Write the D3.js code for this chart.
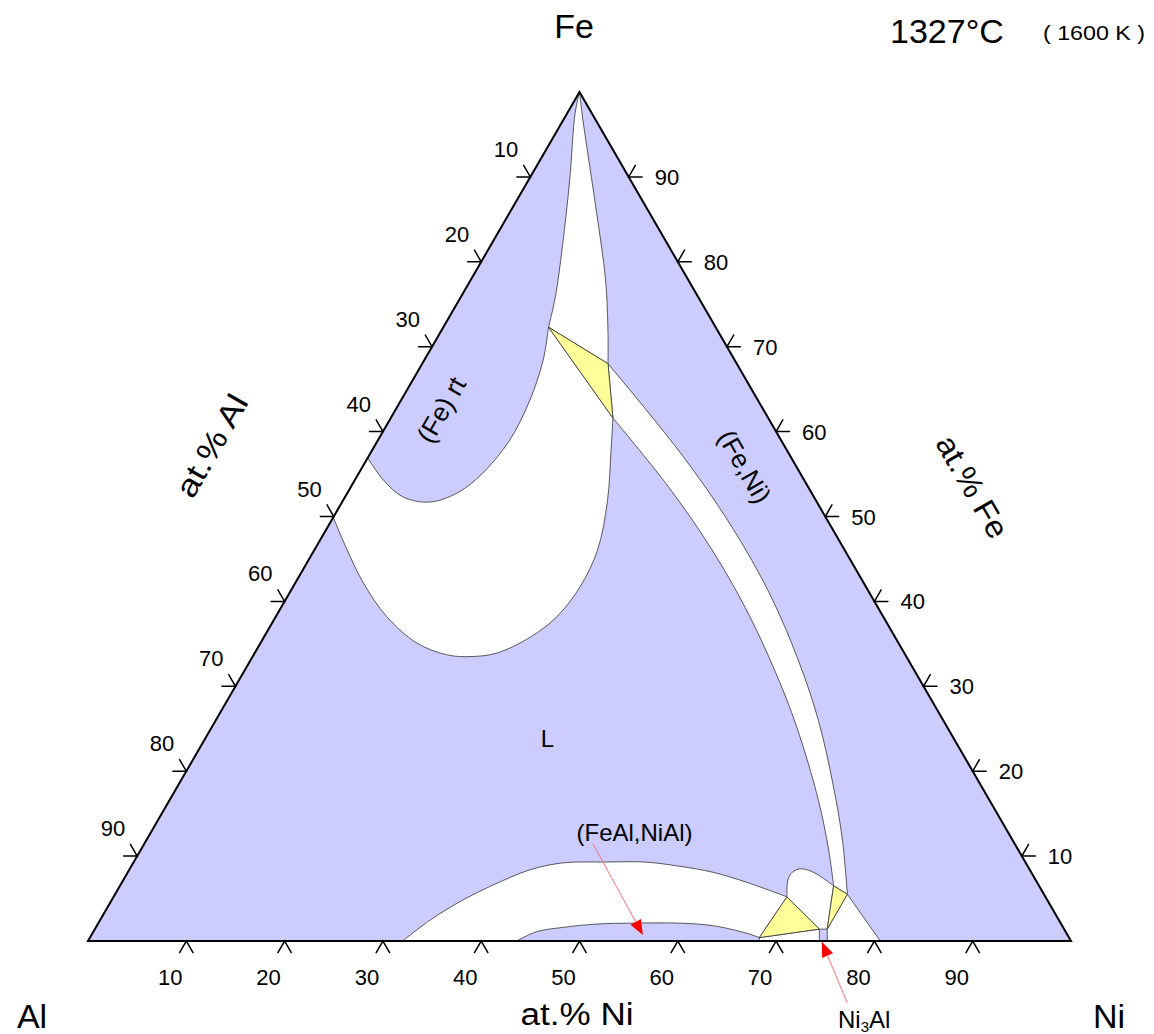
<!DOCTYPE html>
<meta charset="utf-8">
<style>
body { margin: 0; background: #fff; }
svg text { font-family: "Liberation Sans", Arial, sans-serif; fill: #000; }
.region { stroke: #333; stroke-width: 0.8; stroke-linejoin: round; }
.tick { fill: none; stroke: #000; stroke-width: 1.5; }
</style>
<body></body>
<script src="https://cdnjs.cloudflare.com/ajax/libs/d3/7.8.5/d3.min.js"></script>
<script>
var width = 1154, height = 1034;

// all compositions are [at.% Ni, at.% Fe]  (Al = 100 - Ni - Fe)
var tickValues = [10, 20, 30, 40, 50, 60, 70, 80, 90];

// tie triangles (corners)
var A = [10.7, 72.3], B = [18.9, 68.0], C = [22.6, 61.6];   // (Fe)rt + (Fe,Ni) + L
var D = [68.5, 5.2],  E = [68.1, 0.4],  F = [73.7, 1.4];    // L + B2 + Ni3Al
var G = [72.6, 6.5],  H = [74.5, 5.5],  I = [74.5, 1.4];    // L + (Fe,Ni) + Ni3Al

// phase boundaries
var bccApex   = [[0, 100], [0.8, 97.5], [4.2, 89.6], [7.4, 81.7], [9.6, 75.9], A];
var fccApex   = [[0, 100], [2.0, 96.7], [4.0, 93.5], [8.9, 85.7], [13.7, 77.9], [17.1, 71.6], B];
var bccLobe   = [A, [12.1, 68.4], [13.1, 63.7], [13.4, 59.0], [12.6, 55.1], [11.2, 52.8],
                 [8.9, 51.7], [5.9, 52.3], [2.9, 54.3], [0, 56.9]];
var liqBowl   = [[0, 49.9], [3.3, 46.1], [6.9, 42.2], [11.3, 38.2], [15.9, 35.1], [19.7, 33.7],
                 [22.1, 33.5], [24.6, 33.9], [27.1, 35.8], [28.6, 38.2], [29.2, 41.7],
                 [28.8, 46.1], [26.9, 51.9], [24.4, 57.6], C];
var liqBand   = [C, [32.3, 53.5], [40.1, 46.4], [47.2, 39.3], [53.9, 31.9], [59.5, 25.2],
                 [66.0, 16.6], [70.0, 10.7], G];
var fccBand   = [B, [26.9, 61.4], [33.8, 55.5], [41.5, 48.4], [48.8, 41.0], [55.7, 33.1],
                 [61.3, 26.0], [66.8, 18.1], [70.8, 11.9], H];
var liqBottom = [[32.0, 0], [33.6, 2.5], [35.7, 4.8], [38.2, 6.8], [40.8, 8.4], [43.7, 9.2],
                 [48.1, 9.3], [52.0, 9.3], [55.8, 8.8], [59.5, 8.1], [63.6, 6.9], D];
var b2Top     = [[43.6, 0], [45.1, 1.1], [47.5, 1.6], [50.8, 2.0], [54.1, 2.1], [59.2, 2.1],
                 [62.7, 1.8], [66.6, 0.9], E];
var liqBump   = [D, [67.6, 7.2], [67.6, 8.1], [68.2, 8.5], [69.5, 8.2], [70.9, 7.5], G];
var b2Ni3Al   = [E, F, [74.4, 0], [68.3, 0]];
var fccNi3Al  = [I, H, [80.6, 0], [75.2, 0]];

// labels
var phaseNames = ["(Fe) rt", "(Fe,Ni)", "L", "(FeAl,NiAl)"];
var phaseSpots = [[5.2, 63.1], [37.8, 56.4], [34.8, 23.9], [49.2, 12.8]];
var phaseAngles = [-60, 60, 0, 0];
var arrowFrom = [[45.6, 11.5], [80.9, -7.3]];
var arrowTo   = [[56.1, 0.7], [74.7, -0.1]];

var xScale = d3.scaleLinear().domain([0, 100]).range([88, 1071]);
var yScale = d3.scaleLinear().domain([0, 100]).range([941, 92]);
function proj(c) { return [xScale(c[0] + c[1] / 2), yScale(c[1])]; }

var curve = d3.line().curve(d3.curveCatmullRom.alpha(0.5));
var straight = d3.line();

// join pieces into one closed outline: [points, curved?]
function outline(pieces) {
  var d = "";
  pieces.forEach(function(p, i) {
    var s = (p[1] ? curve : straight)(p[0].map(proj));
    d += i === 0 ? s : "L" + s.slice(1);
  });
  return d + "Z";
}
function rev(a) { return a.slice().reverse(); }

var svg = d3.select("body").append("svg")
    .attr("width", width)
    .attr("height", height);

// single phase background
var corners = [[0, 0], [100, 0], [0, 100]];
svg.append("path")
    .attr("d", straight(corners.map(proj)) + "Z")
    .attr("fill", "#ccccff");

// two phase regions
var twoPhase = [
  [[fccApex, true], [[B, A], false], [rev(bccApex), true]],
  [[bccLobe, true], [[[0, 56.9], [0, 49.9]], false], [liqBowl, true], [[C, A], false]],
  [[fccBand, true], [[H, G], false], [rev(liqBand), true], [[C, B], false]],
  [[liqBottom, true], [[D, E], false], [rev(b2Top), true]],
  [[liqBump, true], [[G, I, F], false]],
  [[b2Ni3Al, false]],
  [[fccNi3Al, false]]
];
svg.selectAll(".two")
    .data(twoPhase)
    .enter().append("path")
    .attr("class", "region two")
    .attr("fill", "#fff")
    .attr("d", outline);

// three phase triangles
var tieTriangles = [[A, B, C], [D, E, F], [G, H, I]];
svg.selectAll(".three")
    .data(tieTriangles)
    .enter().append("path")
    .attr("class", "region three")
    .attr("fill", "#ffff99")
    .attr("d", function(t) { return straight(t.map(proj)) + "Z"; });

// frame
svg.append("path")
    .attr("d", straight(corners.map(proj)) + "Z")
    .attr("fill", "none")
    .attr("stroke", "#000")
    .attr("stroke-width", 2)
    .attr("stroke-linejoin", "miter");

// ticks
var L = 14, sx = L * 0.5, sy = L * Math.sqrt(3) / 2;
var g = svg.append("g");
tickValues.forEach(function(t) {
  var b = proj([t, 0]), l = proj([0, 100 - t]), r = proj([100 - t, t]);
  g.append("path").attr("class", "tick")
    .attr("d", "M" + (b[0] - sx) + "," + (b[1] + sy) + "L" + b[0] + "," + b[1] + "L" + (b[0] + sx) + "," + (b[1] + sy));
  g.append("path").attr("class", "tick")
    .attr("d", "M" + (l[0] - L) + "," + l[1] + "L" + l[0] + "," + l[1] + "L" + (l[0] - sx) + "," + (l[1] - sy));
  g.append("path").attr("class", "tick")
    .attr("d", "M" + (r[0] + L) + "," + r[1] + "L" + r[0] + "," + r[1] + "L" + (r[0] + sx) + "," + (r[1] - sy));
  g.append("text").attr("x", b[0] - 16).attr("y", b[1] + 44)
    .attr("text-anchor", "middle").style("font-size", "22px").text(t);
  g.append("text").attr("x", l[0] - 12).attr("y", l[1] - 20)
    .attr("text-anchor", "end").style("font-size", "22px").text(t);
  g.append("text").attr("x", r[0] + 26).attr("y", r[1] + 8)
    .attr("text-anchor", "start").style("font-size", "22px").text(t);
});

// corner and axis titles
function label(x, y, txt, size, anchor, rot, len) {
  var t = svg.append("text")
    .attr("x", x).attr("y", y)
    .attr("text-anchor", anchor || "middle")
    .style("font-size", size + "px")
    .text(txt);
  if (len) t.attr("textLength", len).attr("lengthAdjust", "spacingAndGlyphs");
  if (rot) t.attr("transform", "rotate(" + rot + "," + x + "," + y + ")");
  return t;
}
label(574, 38, "Fe", 34);
label(32, 1028, "Al", 34);
label(1109, 1028, "Ni", 34);
label(577, 1025, "at.% Ni", 31, "middle", 0, 113);
label(221, 451, "at.% Al", 31, "middle", -60, 113);
label(963, 492, "at.% Fe", 31, "middle", 60, 113);
label(890, 43, "1327°C", 34, "start");
label(1043, 40, "( 1600 K )", 21, "start", 0, 102);

// phase names
phaseNames.forEach(function(n, i) {
  var p = proj(phaseSpots[i]);
  label(p[0], p[1] + 9, n, phaseAngles[i] ? 26 : 24, "middle", phaseAngles[i]);
});
var ni3al = svg.append("text").attr("x", 838).attr("y", 1028).style("font-size", "24px");
ni3al.append("tspan").text("Ni");
ni3al.append("tspan").attr("dy", 4).style("font-size", "15px").text("3");
ni3al.append("tspan").attr("dy", -4).text("Al");

// red arrows
arrowFrom.forEach(function(f, i) {
  var a = proj(f), b = proj(arrowTo[i]);
  var dx = b[0] - a[0], dy = b[1] - a[1], len = Math.sqrt(dx * dx + dy * dy);
  var ux = dx / len, uy = dy / len, hl = 15, hw = 6;
  var bx = b[0] - ux * hl, by = b[1] - uy * hl;
  svg.append("line")
    .attr("x1", a[0]).attr("y1", a[1]).attr("x2", bx).attr("y2", by)
    .attr("stroke", "#ff7070").attr("stroke-width", 1);
  svg.append("path")
    .attr("d", "M" + b[0] + "," + b[1] + "L" + (bx - uy * hw) + "," + (by + ux * hw) +
               "L" + (bx + uy * hw) + "," + (by - ux * hw) + "Z")
    .attr("fill", "#ff0000");
});
</script>
